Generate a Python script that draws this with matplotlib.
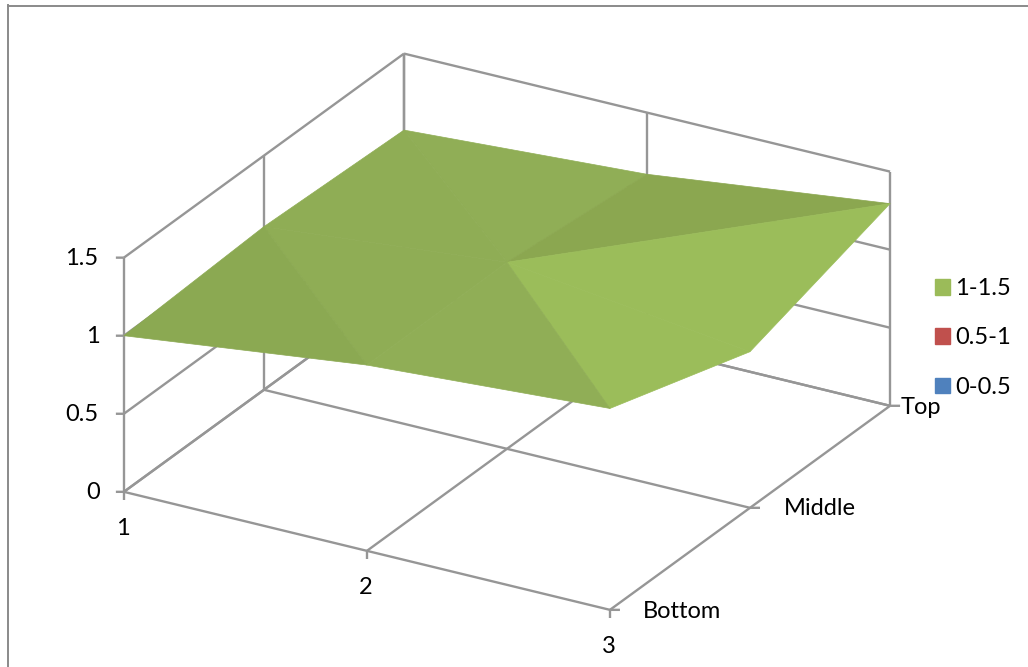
"""
Surface 3D (style tableur) : hauteur selon la colonne et la position.
Sortie : out.png
"""
import matplotlib
matplotlib.use("Agg")
import matplotlib.pyplot as plt
import numpy as np
from matplotlib.lines import Line2D
from matplotlib.patches import Patch
from mpl_toolkits.mplot3d import proj3d

plt.rcParams["font.family"] = ["Lato", "DejaVu Sans"]

colonnes = [1, 2, 3]
positions = ["Bottom", "Middle", "Top"]
niveaux = [0, 0.5, 1, 1.5]
niveaux_txt = ["0", "0.5", "1", "1.5"]
hauteur_bottom = [1.0, 1.19, 1.29]
hauteur_middle = [1.045, 1.195, 1.0]
hauteur_top = [1.01, 1.105, 1.295]
legende_txt = ["1-1.5", "0.5-1", "0-0.5"]
legende_couleurs = ["#9BBB59", "#C0504D", "#4F81BD"]

# Sommets de chaque facette dans la grille (ligne, colonne) et teinte associée
A, B, C, D, E, F, G, H, I = range(9)
facettes = [(A, B, D), (B, E, D), (D, E, G), (G, E, H),
            (B, C, E), (C, F, E), (E, F, I), (E, I, H)]
teintes = ["#8BA952", "#8FAD55", "#8FAD55", "#90AE56",
           "#90AE56", "#9BBD5A", "#9BBD5A", "#8BA750"]

GRIS = "#969696"
POLICE = 17
W, H_FIG = 1028, 667
COTE = 1012  # côté du cadre 3D en pixels

fig = plt.figure(figsize=(W / 100, H_FIG / 100), dpi=100, facecolor="white")
ax = fig.add_axes([-12.7 / W, -184.4 / H_FIG, COTE / W, COTE / H_FIG],
                  projection="3d", proj_type="ortho")
ax.set_axis_off()
ax.patch.set_alpha(0)
ax.computed_zorder = False
ax.view_init(elev=24.87, azim=-60)
ax.set_box_aspect((561, 560, 258), zoom=0.8)
ax.set_xlim(1, 3, view_margin=0)
ax.set_ylim(0, 2, view_margin=0)
ax.set_zlim(0, 1.5, view_margin=0)

# Déplacement en données pour 1 pixel horizontal à l'écran
PX_X, PX_Y = 0.003087, 0.001785


def trait(xs, ys, zs):
    ax.plot(xs, ys, zs, color=GRIS, lw=1.7, zorder=1, clip_on=False,
            solid_capstyle="butt")


ys = range(len(positions))
# Plancher
for x in colonnes:
    trait([x, x], [0, 2], [0, 0])
for y in ys:
    trait([1, 3], [y, y], [0, 0])
# Parois gauche et arrière
for z in niveaux:
    trait([1, 1], [0, 2], [z, z])
    trait([1, 3], [2, 2], [z, z])
for y in ys:
    trait([1, 1], [y, y], [0, 1.5])
for x in colonnes:
    trait([x, x], [2, 2], [0, 1.5])

# Graduations
for z in niveaux:
    trait([1, 1 - 8 * PX_X], [0, -8 * PX_Y], [z, z])
for x in colonnes:
    trait([x, x], [0, 0], [0, -0.05])
for y in ys:
    trait([3, 3 + 10 * PX_X], [y, y + 10 * PX_Y], [0, 0])

# Surface
xx, yy = np.meshgrid(colonnes, list(ys))
zz = np.array([hauteur_bottom, hauteur_middle, hauteur_top])
surf = ax.plot_trisurf(xx.ravel(), yy.ravel(), zz.ravel(), triangles=facettes,
                       shade=False, linewidth=0.5, zorder=2)
surf.set_facecolor(teintes)
surf.set_edgecolor(teintes)


def etiquette(x, y, z, txt, dx, dy):
    px, py, _ = proj3d.proj_transform(x, y, z, ax.get_proj())
    ax.annotate(txt, (px, py), xytext=(dx, dy), textcoords="offset pixels",
                ha="center", va="center", fontsize=POLICE, color="black",
                annotation_clip=False)


for z, txt in zip(niveaux, niveaux_txt):
    etiquette(1, 0, z, txt, -42 if len(txt) > 1 else -31, -1)
for x in colonnes:
    etiquette(x, 0, 0, str(x), -1, -37)
etiquette(3, 0, 0, positions[0], 72, -2)
etiquette(3, 1, 0, positions[1], 70, -1)
etiquette(3, 2, 0, positions[2], 31, -2)

# Cadre du graphique
fig.add_artist(Line2D([7.5 / W, 1], [1 - 5.5 / H_FIG] * 2, color="#8A8A8A", lw=1.4))
fig.add_artist(Line2D([8 / W] * 2, [0, 1 - 5 / H_FIG], color="#8A8A8A", lw=1.4))

# Légende
poignees = [Patch(color=c) for c in legende_couleurs]
fig.legend(poignees, legende_txt, loc="center left",
           bbox_to_anchor=(935 / W, 1 - 338 / H_FIG), frameon=False,
           fontsize=POLICE, handlelength=0.64, handleheight=0.64,
           handletextpad=0.22, labelspacing=1.2, borderpad=0, borderaxespad=0)

fig.savefig("out.png", dpi=100)
plt.close(fig)
